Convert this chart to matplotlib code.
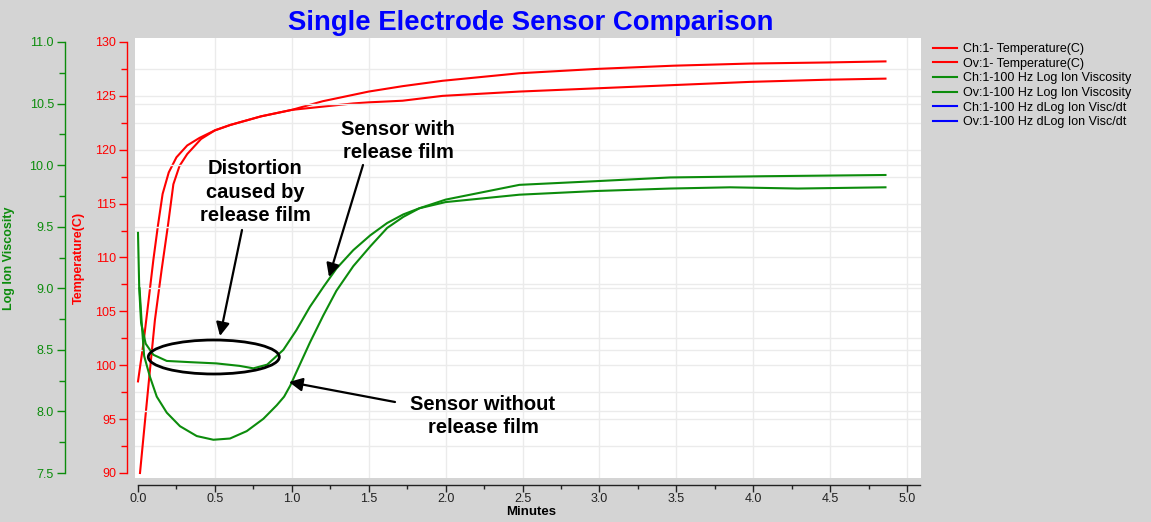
import matplotlib
matplotlib.use("Agg")
import matplotlib.pyplot as plt
from matplotlib.ticker import MultipleLocator, FormatStrFormatter
from matplotlib.patches import Ellipse, FancyArrowPatch

# ---------------- data ----------------
temp_ch_min = [0.0, 0.035, 0.067, 0.10, 0.13, 0.16, 0.20, 0.25, 0.32, 0.40, 0.50, 0.60, 0.70,
               0.80, 0.90, 1.00, 1.20, 1.40, 1.50, 1.72, 1.98, 2.48, 2.98, 3.48, 3.98, 4.48, 4.86]
temp_ch = [98.5, 102.0, 105.8, 109.8, 113.0, 115.9, 117.9, 119.3, 120.4, 121.1, 121.8, 122.3, 122.7,
           123.1, 123.4, 123.7, 124.5, 125.1, 125.4, 125.9, 126.4, 127.1, 127.5, 127.8, 128.0, 128.1, 128.2]

temp_ov_min = [0.013, 0.046, 0.078, 0.11, 0.154, 0.195, 0.23, 0.27, 0.32, 0.41, 0.50, 0.60, 0.70,
               0.80, 0.90, 1.00, 1.20, 1.40, 1.50, 1.72, 1.98, 2.48, 2.98, 3.48, 3.98, 4.48, 4.86]
temp_ov = [90.0, 94.9, 99.6, 104.2, 108.9, 113.0, 116.8, 118.5, 119.6, 121.0, 121.8, 122.3, 122.7,
           123.1, 123.4, 123.7, 124.0, 124.3, 124.4, 124.55, 125.0, 125.4, 125.7, 126.0, 126.3, 126.5, 126.6]

visc_ch_min = [0.0, 0.008, 0.02, 0.05, 0.10, 0.187, 0.34, 0.51, 0.66, 0.75, 0.84, 0.945, 1.03,
               1.118, 1.205, 1.29, 1.40, 1.51, 1.62, 1.725, 1.83, 2.0, 2.48, 2.98, 3.46, 3.85, 4.29, 4.86]
visc_ch = [9.45, 9.0, 8.72, 8.55, 8.46, 8.41, 8.40, 8.39, 8.37, 8.35, 8.38, 8.50, 8.66,
           8.85, 9.01, 9.16, 9.31, 9.43, 9.53, 9.60, 9.65, 9.70, 9.76, 9.79, 9.81, 9.82, 9.81, 9.82]

visc_ov_min = [0.01, 0.025, 0.04, 0.078, 0.122, 0.187, 0.273, 0.382, 0.49, 0.598, 0.707, 0.815,
               0.902, 0.95, 0.99, 1.03, 1.118, 1.205, 1.29, 1.40, 1.51, 1.62, 1.725, 1.83, 2.0,
               2.48, 2.98, 3.46, 4.07, 4.86]
visc_ov = [9.0, 8.7, 8.45, 8.28, 8.12, 7.99, 7.88, 7.80, 7.77, 7.78, 7.84, 7.94,
           8.05, 8.12, 8.21, 8.32, 8.56, 8.78, 8.98, 9.18, 9.34, 9.49, 9.58, 9.65, 9.72,
           9.84, 9.87, 9.90, 9.91, 9.92]

# derivative series: no visible data in the chart
dvisc_ch_min, dvisc_ch = [], []
dvisc_ov_min, dvisc_ov = [], []

series_labels = ["Ch:1- Temperature(C)", "Ov:1- Temperature(C)",
                 "Ch:1-100 Hz Log Ion Viscosity", "Ov:1-100 Hz Log Ion Viscosity",
                 "Ch:1-100 Hz dLog Ion Visc/dt", "Ov:1-100 Hz dLog Ion Visc/dt"]

# ---------------- style ----------------
plt.rcParams['font.family'] = ['Liberation Sans', 'DejaVu Sans']
W, H = 1151, 522
BG = '#d4d4d4'
RED = '#ff0000'
GREEN = '#0c8c0c'
BLUE = '#0000ff'
GRID = '#ebebeb'

def fx(x):
    return x / W

def fy(y):
    return 1 - y / H

fig = plt.figure(figsize=(W / 100, H / 100), dpi=100, facecolor=BG)

# plot area (white)
L, R, T, B = 135, 921, 38, 478
ax = fig.add_axes([fx(L), fy(B), (R - L) / W, (B - T) / H])
ax.set_facecolor('white')
ax2 = ax.twinx()

# pixel scale: x0 at 138 px, 153.8 px/min; temp 130 at 42 px, 90 at 473 px
ax.set_xlim((L - 138) / 153.8, (R - 138) / 153.8)
tp = (473 - 42) / 40.0
ax.set_ylim(90 - (B - 473) / tp, 130 + (42 - T) / tp)
vp = (473 - 42) / 3.5
ax2.set_ylim(7.5 - (B - 473) / vp, 11.0 + (42 - T) / vp)

# grid
for v in [i * 0.5 for i in range(1, 11)]:
    ax.axvline(v, color=GRID, lw=1, zorder=0)
for t in [90 + 2.5 * i for i in range(1, 16)]:
    ax.axhline(t, color=GRID, lw=1, zorder=0)
for v in [7.5 + 0.5 * i for i in range(1, 7)]:
    ax2.axhline(v, color=GRID, lw=1, zorder=0)

# curves
l1, = ax.plot(temp_ch_min, temp_ch, color=RED, lw=1.5, label=series_labels[0], zorder=3)
l2, = ax.plot(temp_ov_min, temp_ov, color=RED, lw=1.5, label=series_labels[1], zorder=3)
l3, = ax2.plot(visc_ch_min, visc_ch, color=GREEN, lw=1.5, label=series_labels[2], zorder=3)
l4, = ax2.plot(visc_ov_min, visc_ov, color=GREEN, lw=1.5, label=series_labels[3], zorder=3)
l5, = ax2.plot(dvisc_ch_min, dvisc_ch, color=BLUE, lw=1.5, label=series_labels[4])
l6, = ax2.plot(dvisc_ov_min, dvisc_ov, color=BLUE, lw=1.5, label=series_labels[5])

# spines
for a in (ax, ax2):
    for s in a.spines.values():
        s.set_visible(False)

# temperature axis
ax.spines['left'].set_visible(True)
ax.spines['left'].set_position(('outward', 8 * 0.72))
ax.spines['left'].set_bounds(90, 130)
ax.spines['left'].set_color(RED)
ax.spines['left'].set_linewidth(1.0)
ax.set_yticks([90 + 5 * i for i in range(9)])
ax.yaxis.set_minor_locator(MultipleLocator(2.5))
ax.yaxis.set_major_formatter(FormatStrFormatter('%d'))
ax.tick_params(axis='y', which='both', colors=RED, labelcolor=RED, labelsize=9, width=1.0, direction='out')
ax.tick_params(axis='y', which='major', length=6, pad=2)
ax.tick_params(axis='y', which='minor', length=4)
ax.set_ylabel('Temperature(C)', color=RED, fontsize=9, fontweight='bold')
ax.yaxis.set_label_coords((85 - L) / (R - L), (B - 258) / (B - T))

# viscosity axis
ax2.spines['left'].set_visible(True)
ax2.spines['left'].set_position(('outward', 70 * 0.72))
ax2.spines['left'].set_bounds(7.5, 11.0)
ax2.spines['left'].set_color(GREEN)
ax2.spines['left'].set_linewidth(1.0)
ax2.yaxis.set_ticks_position('left')
ax2.yaxis.set_label_position('left')
ax2.set_yticks([7.5 + 0.5 * i for i in range(8)])
ax2.yaxis.set_minor_locator(MultipleLocator(0.25))
ax2.yaxis.set_major_formatter(FormatStrFormatter('%.1f'))
ax2.tick_params(axis='y', which='both', colors=GREEN, labelcolor=GREEN, labelsize=9, width=1.0, direction='out')
ax2.tick_params(axis='y', which='major', length=6, pad=2)
ax2.tick_params(axis='y', which='minor', length=4)
ax2.set_ylabel('Log Ion Viscosity', color=GREEN, fontsize=9, fontweight='bold')
ax2.yaxis.set_label_coords((15 - L) / (R - L), (B - 258) / (B - T))

# x axis
ax.spines['bottom'].set_visible(True)
ax.spines['bottom'].set_position(('outward', 7 * 0.72))
ax.spines['bottom'].set_bounds(0, (920 - 138) / 153.8)
ax.spines['bottom'].set_color('#222222')
ax.spines['bottom'].set_linewidth(1.0)
ax.set_xticks([0.5 * i for i in range(11)])
ax.xaxis.set_minor_locator(MultipleLocator(0.25))
ax.xaxis.set_major_formatter(FormatStrFormatter('%.1f'))
ax.tick_params(axis='x', which='both', colors='#222222', labelsize=9, width=1.0, direction='out')
ax.tick_params(axis='x', which='major', length=5, pad=0.5)
ax.tick_params(axis='x', which='minor', length=3)
ax.set_xlabel('Minutes', fontsize=9.5, fontweight='bold')
ax.xaxis.set_label_coords((531 - L) / (R - L), (B - 506) / (B - T))

# title
fig.text(fx(530.5), fy(30), 'Single Electrode Sensor Comparison', color=BLUE,
         fontsize=19.8, fontweight='bold', ha='center', va='baseline')

# legend
fig.legend(handles=[l1, l2, l3, l4, l5, l6], loc='upper left',
           bbox_to_anchor=(fx(933), fy(43)), bbox_transform=fig.transFigure,
           frameon=False, fontsize=9, borderpad=0, borderaxespad=0,
           handlelength=1.92, handletextpad=0.48, labelspacing=0.21)

# annotations
txt_kw = dict(fontsize=14.5, fontweight='bold', ha='center', va='center',
              multialignment='center', linespacing=1.32, color='black')
fig.text(fx(255), fy(192), 'Distortion\ncaused by\nrelease film', **txt_kw)
fig.text(fx(398), fy(141), 'Sensor with\nrelease film', **txt_kw)
fig.text(fx(483), fy(416), 'Sensor without\nrelease film', **txt_kw)

arrow_kw = dict(arrowstyle='-|>', mutation_scale=20, lw=1.6, color='black',
                shrinkA=0, shrinkB=0)
for (x0, y0), (x1, y1) in [((242, 230), (220, 336)),
                           ((363, 165), (329, 277)),
                           ((395, 402), (289, 382))]:
    fig.add_artist(FancyArrowPatch((fx(x0), fy(y0)), (fx(x1), fy(y1)),
                                   transform=fig.transFigure, **arrow_kw))

fig.add_artist(Ellipse((fx(213.8), fy(357)), 131 / W, 34 / H, transform=fig.transFigure,
                       fill=False, edgecolor='black', lw=2.0))

fig.savefig('out.png', dpi=100, facecolor=BG)
